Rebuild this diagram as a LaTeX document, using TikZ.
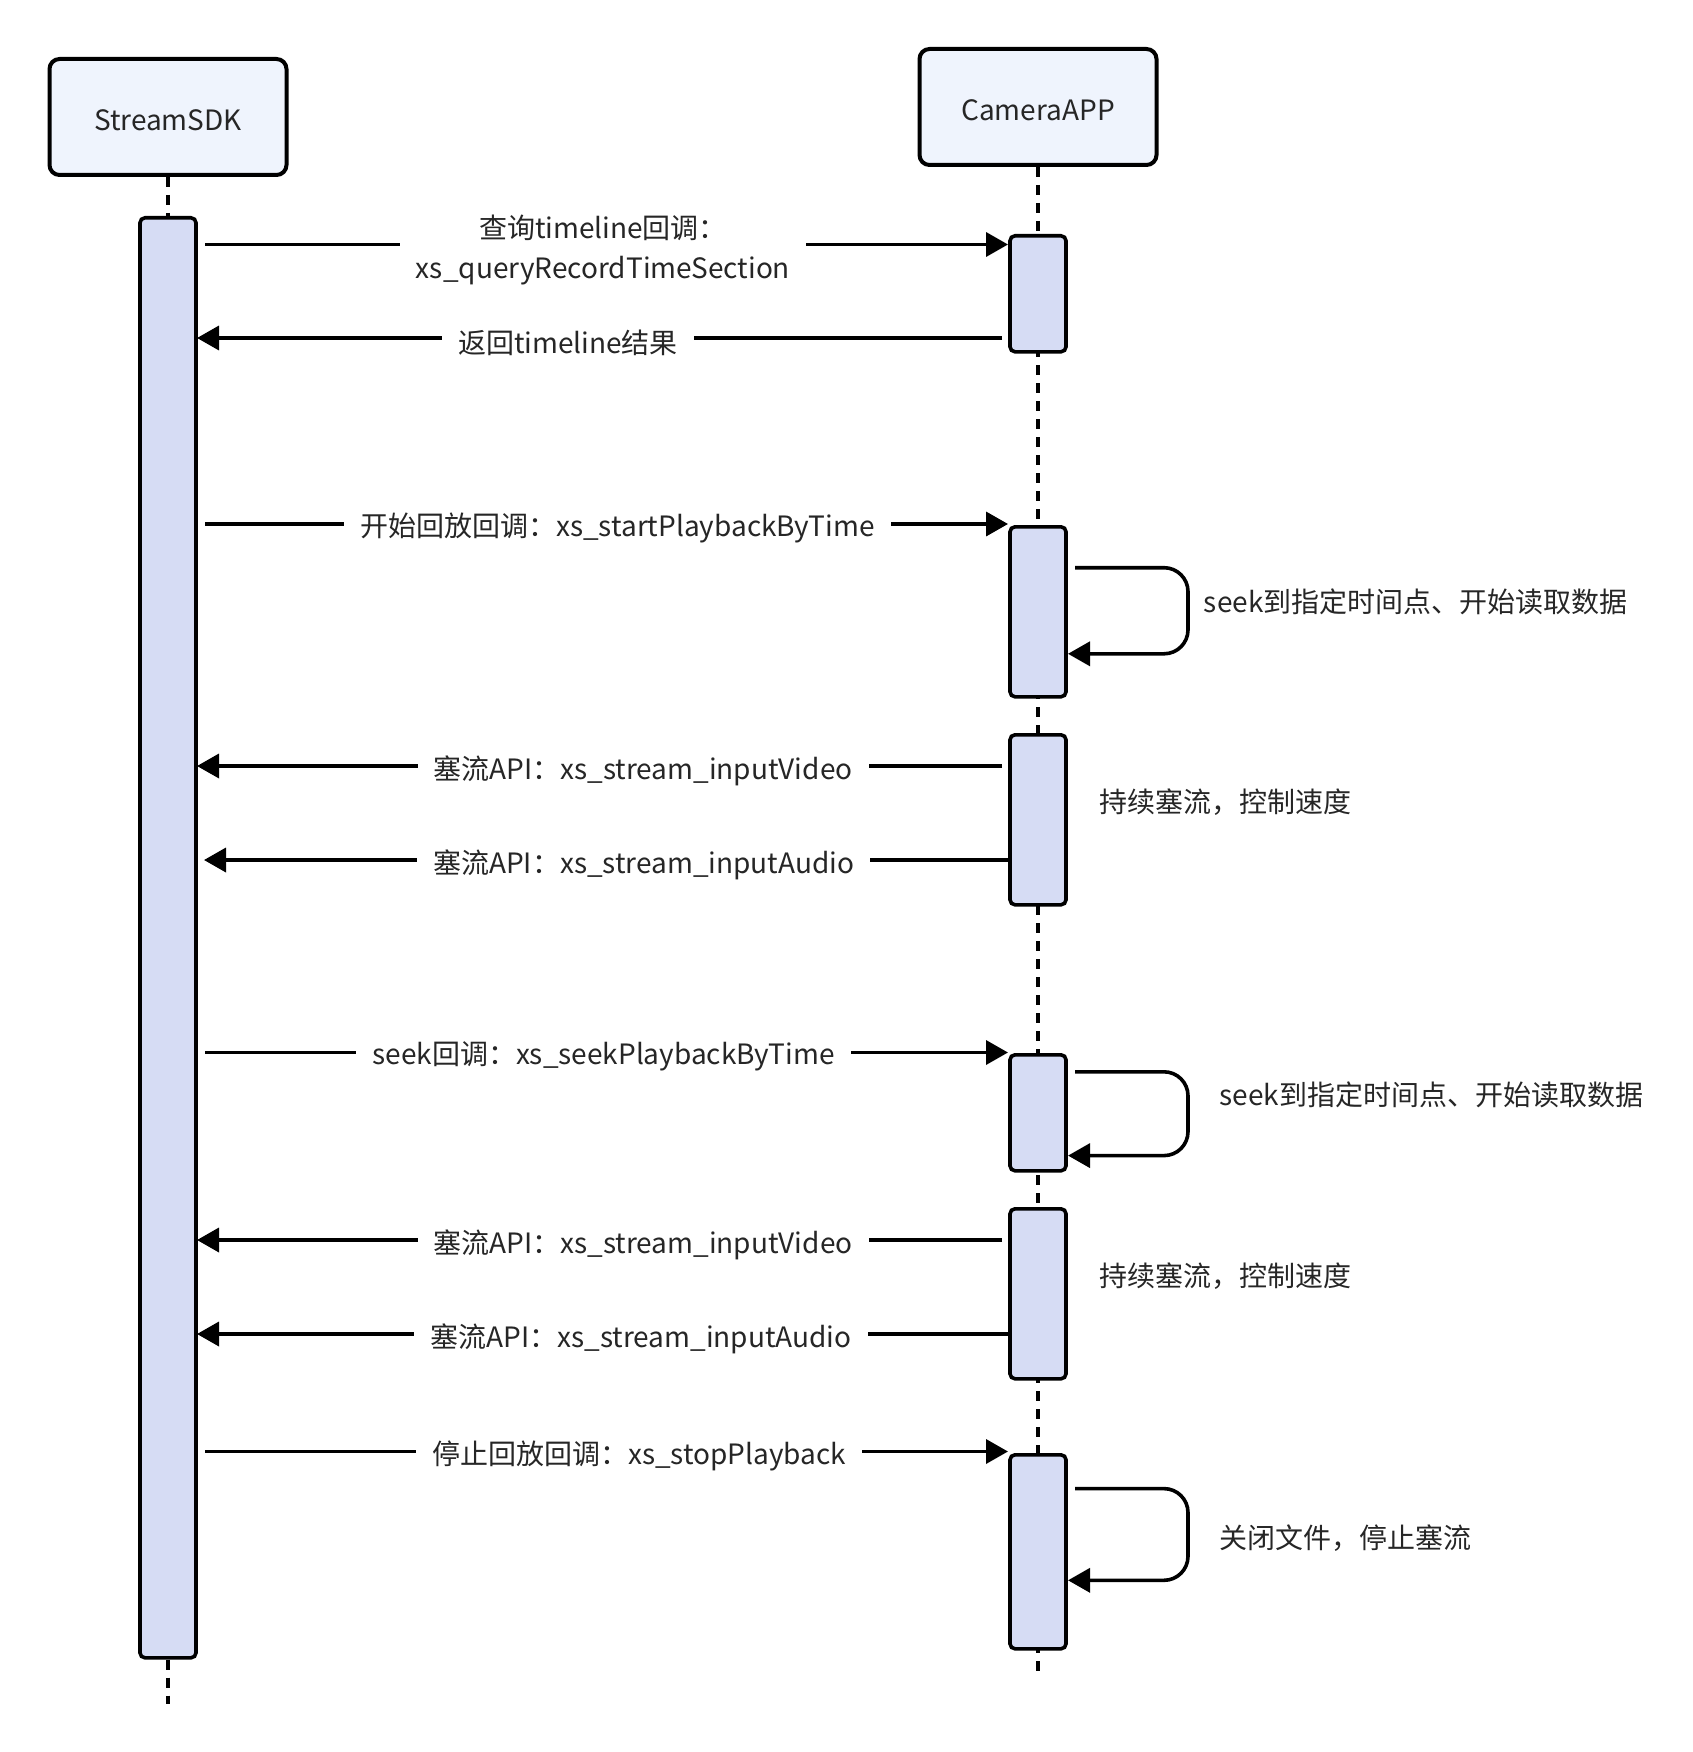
\documentclass[tikz,border=0pt]{standalone}
\usepackage{fontspec}
\setmainfont{Noto Sans CJK SC}
\usetikzlibrary{arrows.meta}
\definecolor{headfill}{HTML}{EFF4FD}
\definecolor{barfill}{HTML}{D6DCF4}
\definecolor{txt}{HTML}{262626}
\begin{document}
\begin{tikzpicture}[x=1pt,y=-1pt,
  head/.style={draw=black, line width=4pt, fill=headfill, rounded corners=10pt, minimum width=237pt, minimum height=116pt, inner sep=0pt, font=\fontsize{28}{34}\selectfont, text=txt},
  actbar/.style={draw=black, line width=3.6pt, fill=barfill, rounded corners=5pt, minimum width=56pt, inner sep=0pt, anchor=north},
  life/.style={line width=3.6pt, dash pattern=on 10pt off 8pt},
  msg/.style={line width=3.6pt, -{Triangle[length=22pt,width=24pt]}},
  lbl/.style={fill=white, inner xsep=16pt, inner ysep=2pt, yshift=-3.5pt, font=\fontsize{28}{40}\selectfont, text=txt},
  note/.style={anchor=west, inner sep=0pt, font=\fontsize{28}{34}\selectfont, text=txt}]
\useasboundingbox (0,0) rectangle (1692,1752);

% heads
\node[head] (sdk) at (168,117) {\raisebox{-3.5pt}[\height][\depth]{StreamSDK}};
\node[head] (cam) at (1038,107) {\raisebox{-3.5pt}[\height][\depth]{CameraAPP}};

% lifelines
\coordinate (sdkend) at (168,1704);
\coordinate (camend) at (1038,1676);
\draw[life] (cam.south) -- (camend);

% activation bars
\node[actbar, minimum height=1440pt] (sb) at (168,216) {};
\draw[life] (sdk.south) -- (sb.north);
\draw[life] (sb.south) -- (sdkend);
\node[actbar, minimum height=116pt] (c1) at (1038,234) {};
\node[actbar, minimum height=170pt] (c2) at (1038,525) {};
\node[actbar, minimum height=170pt] (c3) at (1038,733) {};
\node[actbar, minimum height=116pt] (c4) at (1038,1053) {};
\node[actbar, minimum height=170pt] (c5) at (1038,1207) {};
\node[actbar, minimum height=194pt] (c6) at (1038,1453) {};

% message end points
\coordinate (m1s) at (205,244.5);  \coordinate (m1e) at (1008,244.5);
\coordinate (m2s) at (1002,338); \coordinate (m2e) at (197,338);
\coordinate (m3s) at (205,524);    \coordinate (m3e) at (1008,524);
\coordinate (m4s) at (1002,766); \coordinate (m4e) at (197,766);
\coordinate (m5s) at (1009,860); \coordinate (m5e) at (204,860);
\coordinate (m6s) at (205,1052.5); \coordinate (m6e) at (1008,1052.5);
\coordinate (m7s) at (1002,1240); \coordinate (m7e) at (197,1240);
\coordinate (m8s) at (1009,1334); \coordinate (m8e) at (197,1334);
\coordinate (m9s) at (205,1451.5); \coordinate (m9e) at (1008,1451.5);

\draw[msg] (m1s) -- (m1e);
\draw[msg] (m2s) -- (m2e);
\draw[msg] (m3s) -- (m3e);
\draw[msg] (m4s) -- (m4e);
\draw[msg] (m5s) -- (m5e);
\draw[msg] (m6s) -- (m6e);
\draw[msg] (m7s) -- (m7e);
\draw[msg] (m8s) -- (m8e);
\draw[msg] (m9s) -- (m9e);

% message labels
\node[lbl, align=center] (t1) at (603,247) {查询timeline回调：\\xs\_queryRecordTimeSection};
\node[lbl] (t2) at (568,339) {返回timeline结果};
\node[lbl] (t3) at (617.5,524) {开始回放回调：xs\_startPlaybackByTime};
\node[lbl] (t4) at (643,767) {塞流API：xs\_stream\_inputVideo};
\node[lbl] (t5) at (643.7,861) {塞流API：xs\_stream\_inputAudio};
\node[lbl] (t6) at (603.5,1053) {seek回调：xs\_seekPlaybackByTime};
\node[lbl] (t7) at (643,1241) {塞流API：xs\_stream\_inputVideo};
\node[lbl] (t8) at (641,1335) {塞流API：xs\_stream\_inputAudio};
\node[lbl] (t9) at (639.3,1452) {停止回放回调：xs\_stopPlayback};

% self loops
\coordinate (l1a) at (1075,567.7); \coordinate (l1b) at (1188,567.7);
\coordinate (l1c) at (1188,653.8); \coordinate (l1d) at (1068,653.8);
\draw[msg, rounded corners=24pt] (l1a) -- (l1b) -- (l1c) -- (l1d);
\coordinate (l2a) at (1075,1071.8); \coordinate (l2b) at (1188,1071.8);
\coordinate (l2c) at (1188,1155.6); \coordinate (l2d) at (1068,1155.6);
\draw[msg, rounded corners=24pt] (l2a) -- (l2b) -- (l2c) -- (l2d);
\coordinate (l3a) at (1075,1488.6); \coordinate (l3b) at (1188,1488.6);
\coordinate (l3c) at (1188,1580.3); \coordinate (l3d) at (1068,1580.3);
\draw[msg, rounded corners=24pt] (l3a) -- (l3b) -- (l3c) -- (l3d);

% notes
\node[note] (n1) at (1203.7,602) {seek到指定时间点、开始读取数据};
\node[note] (n2) at (1099.7,802) {持续塞流，控制速度};
\node[note] (n3) at (1219.3,1095) {seek到指定时间点、开始读取数据};
\node[note] (n4) at (1099.7,1276) {持续塞流，控制速度};
\node[note] (n5) at (1219.3,1538) {关闭文件，停止塞流};
\end{tikzpicture}
\end{document}
